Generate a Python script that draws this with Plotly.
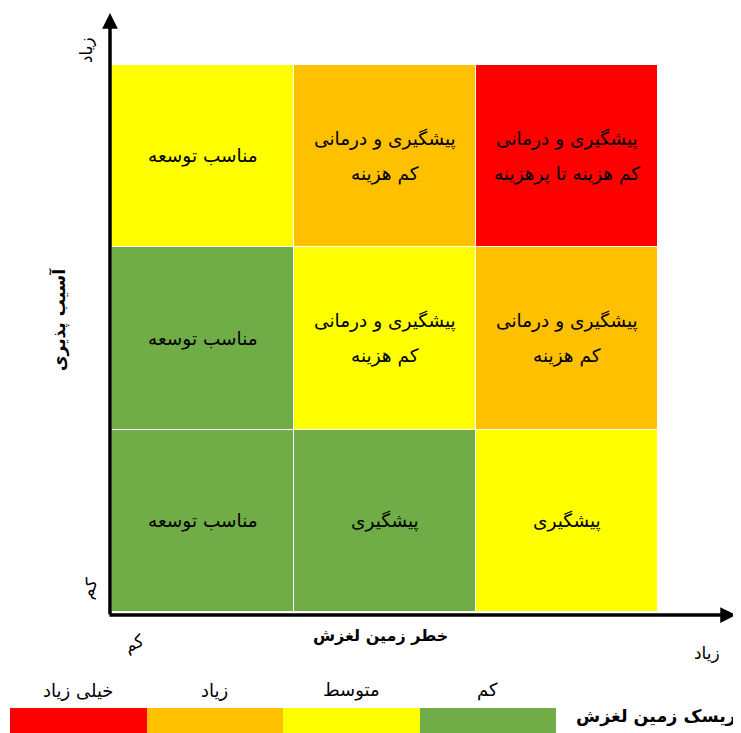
import plotly.graph_objects as go

# page body has an 8px margin, so the figure is drawn 8px in from the window edge
OFF = 8
W, H = 741 - OFF, 733 - OFF

# ---------------- data ----------------
hazard_levels = [0, 1, 2]          # x: خطر زمین لغزش (کم -> زیاد)
vuln_levels = [0, 1, 2]            # y: آسیب پذیری (کم -> زیاد)
# risk class per cell: 0 کم, 1 متوسط, 2 زیاد, 3 خیلی زیاد  (rows bottom -> top)
risk_matrix = [
    [0, 0, 1],
    [0, 1, 2],
    [1, 2, 3],
]
cell_text = [
    ["مناسب توسعه", "پیشگیری", "پیشگیری"],
    ["مناسب توسعه", "پیشگیری و درمانی<br>کم هزینه", "پیشگیری و درمانی<br>کم هزینه"],
    ["مناسب توسعه", "پیشگیری و درمانی<br>کم هزینه", "پیشگیری و درمانی<br>کم هزینه تا پرهزینه"],
]
legend_levels = [3, 2, 1, 0]
legend_labels = ["خیلی زیاد", "زیاد", "متوسط", "کم"]
risk_colors = ["#70AD47", "#FFFF00", "#FFC000", "#FF0000"]

x_title = "خطر زمین لغزش"
y_title = "آسیب پذیری"
legend_title = "ریسک زمین لغزش"
low_label = "کم"
high_label = "زیاد"

FONT = "DejaVu Sans"

def px_x(p):
    return (p - OFF) / W

def px_y(p):
    return 1 - (p - OFF) / H

colorscale = []
n = len(risk_colors)
for i, c in enumerate(risk_colors):
    colorscale.append([i / n, c])
    colorscale.append([(i + 1) / n, c])

fig = go.Figure()

fig.add_trace(go.Heatmap(
    x=hazard_levels, y=vuln_levels, z=risk_matrix,
    zmin=0, zmax=3, colorscale=colorscale, showscale=False,
    xgap=1, ygap=1, hoverinfo="skip",
))

fig.add_trace(go.Heatmap(
    x=list(range(len(legend_levels))), y=[0], z=[legend_levels],
    zmin=0, zmax=3, colorscale=colorscale, showscale=False,
    xaxis="x2", yaxis="y2", hoverinfo="skip",
))

annotations = []
for yi, row in enumerate(cell_text):
    for xi, txt in enumerate(row):
        lines = txt.split("<br>")
        nl = len(lines)
        for li, line in enumerate(lines):
            shift = (nl - 1) * 17.5 - li * 35
            annotations.append(dict(
                x=hazard_levels[xi], y=vuln_levels[yi], xref="x", yref="y",
                text=line, showarrow=False, yshift=shift,
                font=dict(family=FONT, size=18.5, color="black"),
            ))

# legend labels above bars
for i, lab in enumerate(legend_labels):
    annotations.append(dict(
        x=i, y=0.5, xref="x2", yref="y2", yanchor="bottom", yshift=5,
        text=lab, showarrow=False,
        font=dict(family=FONT, size=18, color="black"),
    ))

def lab(xp, yp, text, size, angle=0):
    return dict(x=px_x(xp), y=px_y(yp), xref="paper", yref="paper",
                xanchor="center", yanchor="middle", text=text, showarrow=False,
                textangle=angle, font=dict(family=FONT, size=size, color="black"))

# axis titles and end labels
annotations += [
    lab(380, 635, f"<b>{x_title}</b>", 16),
    lab(59, 320, f"<b>{y_title}</b>", 17, -90),
    lab(656, 716, f"<b>{legend_title}</b>", 17.5),
    lab(134, 643, low_label, 17, -25),
    lab(707, 653, high_label, 17),
    lab(86, 50, high_label, 17, -90),
    lab(89, 588, low_label, 17, -70),
]

# axis arrows
annotations += [
    dict(x=px_x(110), y=px_y(13), xref="paper", yref="paper", ax=0, ay=603,
         showarrow=True, arrowhead=2, arrowsize=0.9, arrowwidth=3.5, arrowcolor="black", text=""),
    dict(x=px_x(736), y=px_y(615), xref="paper", yref="paper", ax=-628, ay=0,
         showarrow=True, arrowhead=2, arrowsize=0.9, arrowwidth=3.5, arrowcolor="black", text=""),
]

fig.update_layout(
    width=W, height=H,
    margin=dict(l=0, r=0, t=0, b=0),
    paper_bgcolor="white", plot_bgcolor="white",
    showlegend=False,
    xaxis=dict(domain=[px_x(112), px_x(658)], range=[-0.5, 2.5], visible=False, fixedrange=True),
    yaxis=dict(domain=[px_y(612), px_y(65)], range=[-0.5, 2.5], visible=False, fixedrange=True),
    xaxis2=dict(domain=[px_x(10), px_x(556)], range=[-0.5, 3.5], visible=False, anchor="y2"),
    yaxis2=dict(domain=[0, px_y(708)], range=[-0.5, 0.5], visible=False, anchor="x2"),
    annotations=annotations,
)

fig.write_html("out.html")
